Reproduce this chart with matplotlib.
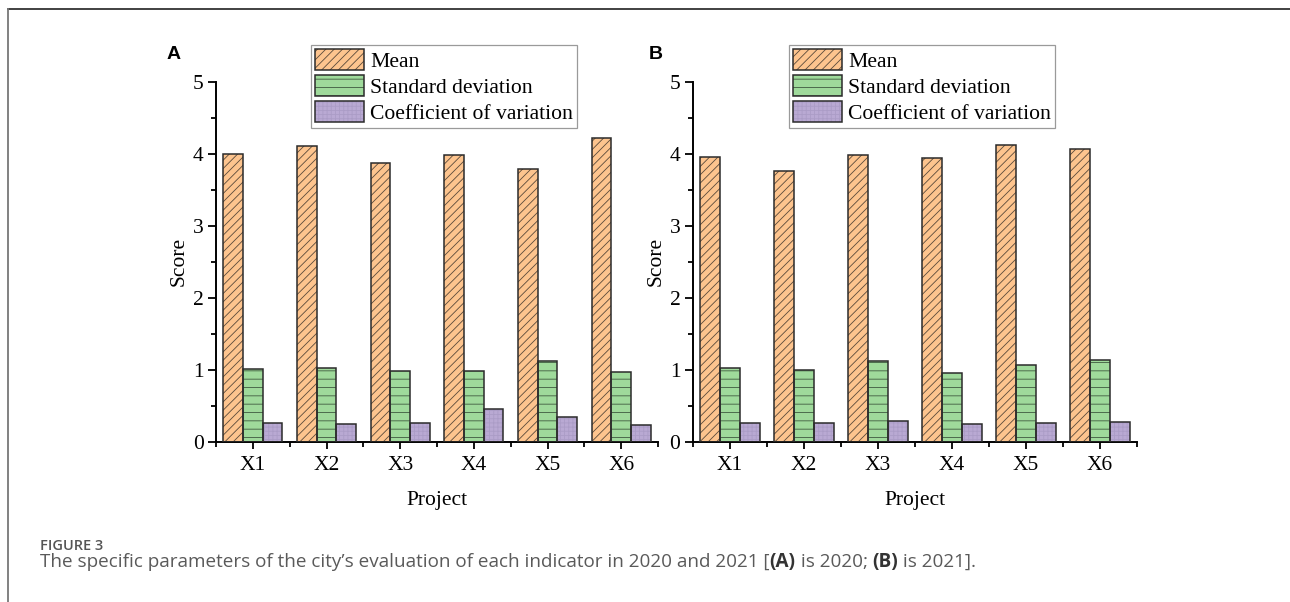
import matplotlib
matplotlib.use("Agg")
import matplotlib.pyplot as plt
from matplotlib.patches import Patch
from matplotlib.lines import Line2D
from matplotlib.ticker import MultipleLocator
import numpy as np

# Datos
proyectos = ["X1", "X2", "X3", "X4", "X5", "X6"]
series = ["Mean", "Standard deviation", "Coefficient of variation"]

media_2020 = [4.00, 4.11, 3.87, 3.98, 3.79, 4.22]
desv_2020 = [1.01, 1.03, 0.98, 0.98, 1.12, 0.965]
cv_2020 = [0.255, 0.25, 0.255, 0.455, 0.35, 0.23]

media_2021 = [3.96, 3.765, 3.98, 3.95, 4.13, 4.07]
desv_2021 = [1.02, 0.99, 1.12, 0.96, 1.06, 1.13]
cv_2021 = [0.26, 0.265, 0.29, 0.24, 0.255, 0.27]

# Estilo de cada serie: relleno, color de trama, trama
RELLENOS = ["#FDC48E", "#9FDA9B", "#B9A9D3"]
TRAMA_COLOR = ["#5a4a3a", "#3f5a3f", "#ab9cc6"]
TRAMAS = ["////", "--", "++++"]
BORDE = "#2b2b2b"

plt.rcParams["font.family"] = ["Liberation Serif", "DejaVu Serif"]
plt.rcParams["hatch.linewidth"] = 0.6

W, H = 1290, 602
fig = plt.figure(figsize=(W / 100, H / 100), dpi=100)


def px(x0, y0, x1, y1):
    # caja en pixeles (y desde arriba) -> fraccion de figura
    return [x0 / W, 1 - y1 / H, (x1 - x0) / W, (y1 - y0) / H]


def panel(caja, datos, letra, pos_letra, pos_leyenda):
    ax = fig.add_axes(px(*caja))
    x = np.arange(1, len(proyectos) + 1)
    ancho = 0.8 / 3
    for i, valores in enumerate(datos):
        desp = (i - 1) * ancho
        ax.bar(x + desp, valores, ancho, color=RELLENOS[i], edgecolor=TRAMA_COLOR[i],
               hatch=TRAMAS[i], linewidth=0, zorder=2)
        ax.bar(x + desp, valores, ancho, fill=False, edgecolor=BORDE,
               linewidth=1.1, zorder=3)

    ax.set_xlim(0.5, 6.5)
    ax.set_ylim(0, 5)
    ax.set_xticks(x)
    ax.set_xticklabels(proyectos, fontsize=15.5)
    ax.xaxis.set_minor_locator(MultipleLocator(1, offset=0.5))
    ax.yaxis.set_major_locator(MultipleLocator(1))
    ax.yaxis.set_minor_locator(MultipleLocator(0.5))
    ax.tick_params(axis="y", which="major", labelsize=15.5, length=6, width=1.3, pad=3)
    ax.tick_params(axis="y", which="minor", length=3.5, width=1.3)
    ax.tick_params(axis="x", which="major", length=5, width=1.3, pad=5)
    ax.tick_params(axis="x", which="minor", length=3.5, width=1.3)
    for s in ["top", "right"]:
        ax.spines[s].set_visible(False)
    for s in ["left", "bottom"]:
        ax.spines[s].set_linewidth(1.4)
    ax.set_xlabel("Project", fontsize=15.5, labelpad=12)
    ax.set_ylabel("Score", fontsize=15.5, labelpad=3)

    manejadores = []
    for i in range(3):
        manejadores.append((Patch(facecolor=RELLENOS[i], edgecolor=TRAMA_COLOR[i],
                                  hatch=TRAMAS[i], linewidth=0),
                            Patch(fill=False, edgecolor=BORDE, linewidth=1.1)))
    leg = fig.legend(manejadores, series, loc="upper left",
                     bbox_to_anchor=(pos_leyenda[0] / W, 1 - pos_leyenda[1] / H),
                     fontsize=15.6, frameon=True, fancybox=False, framealpha=1,
                     edgecolor="#9a9a9a", borderpad=0.2, labelspacing=0.14,
                     handlelength=2.25, handleheight=1.1, handletextpad=0.28,
                     borderaxespad=0)
    leg.get_frame().set_linewidth(0.9)

    fig.text(pos_letra[0] / W, 1 - pos_letra[1] / H, letra, fontsize=14,
             fontweight="bold", family="Liberation Sans", ha="left", va="baseline")
    return ax


panel((216, 82, 658, 441.7), [media_2020, desv_2020, cv_2020], "A", (167, 59), (311, 45))
panel((693, 82, 1137, 441.7), [media_2021, desv_2021, cv_2021], "B", (649, 59), (789, 45))

# Marco de la figura (linea superior e izquierda)
fig.add_artist(Line2D([7.5 / W, 1], [1 - 9 / H, 1 - 9 / H], transform=fig.transFigure,
                      color="#333333", linewidth=1.3))
fig.add_artist(Line2D([7.5 / W, 7.5 / W], [0, 1 - 9 / H], transform=fig.transFigure,
                      color="#777777", linewidth=1.3))

# Pie de figura
fig.text(40 / W, 1 - 550 / H, "FIGURE 3", fontsize=10.5, family="Open Sans",
         color="#555555", fontweight="semibold", ha="left", va="baseline")
fig.text(40 / W, 1 - 567 / H,
         "The specific parameters of the city\u2019s evaluation of each indicator in 2020 and 2021 [",
         fontsize=13.6, family="Open Sans", color="#5a5a5a", ha="left", va="baseline")

# partes en negrita del pie: se colocan a continuacion del texto normal
renderer = fig.canvas.get_renderer()
partes = [("(A)", "bold"), (" is 2020; ", "normal"), ("(B)", "bold"), (" is 2021].", "normal")]
t0 = fig.texts[-1]
x_act = t0.get_window_extent(renderer).x1
for texto, peso in partes:
    t = fig.text(x_act / W, 1 - 567 / H, texto, fontsize=13.6, family="Open Sans",
                 color="#5a5a5a" if peso == "normal" else "#333333",
                 fontweight=peso, ha="left", va="baseline")
    x_act = t.get_window_extent(renderer).x1

fig.savefig("out.png", dpi=100)
